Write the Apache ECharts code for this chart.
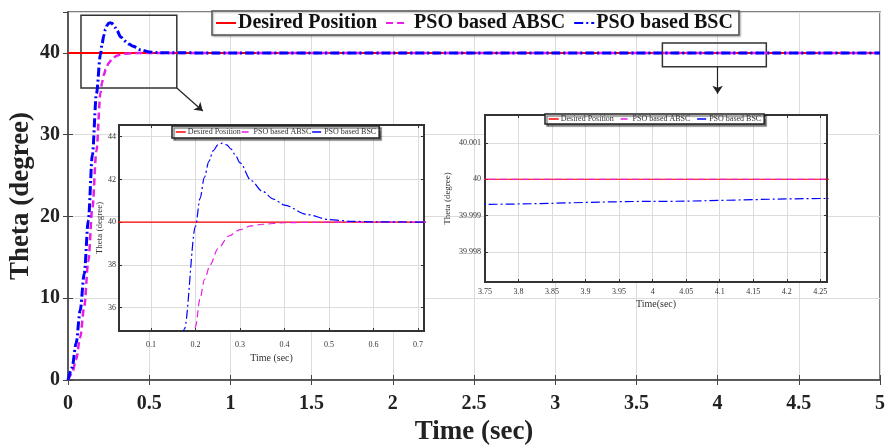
<!DOCTYPE html>
<html>
<head>
<meta charset="utf-8">
<script src="https://cdn.jsdelivr.net/npm/echarts@6/dist/echarts.min.js"></script>
<style>
  html, body { margin: 0; padding: 0; background: #fff; }
  #chart { width: 891px; height: 446px; }
</style>
</head>
<body>
<div id="chart"></div>
<script>
"use strict";

// values
const timeDesired = [0, 5];
const thetaDesired = [40, 40];

const timeAbsc = [0, 0.025, 0.05, 0.075, 0.1, 0.125, 0.15, 0.175, 0.2, 0.21, 0.22, 0.233, 0.25, 0.275, 0.3, 0.325, 0.35, 0.4, 0.45, 0.5, 5];
const thetaAbsc = [0, 0.8, 2.5, 5.2, 9, 14.5, 21, 28, 35.1, 36.4, 37.3, 38, 38.75, 39.35, 39.65, 39.82, 39.9, 39.97, 39.99, 40, 40];

const timeBsc = [0, 0.025, 0.05, 0.075, 0.1, 0.125, 0.15, 0.175, 0.2, 0.21, 0.22, 0.23, 0.24, 0.25, 0.26, 0.27, 0.28, 0.29, 0.3, 0.325, 0.35, 0.375, 0.4, 0.45, 0.5, 0.55, 0.6, 0.7, 0.8, 1, 1.5, 2, 3, 3.75, 4, 4.26, 5];
const thetaBsc = [0, 1.5, 4.5, 8.5, 13, 19.5, 27.5, 35, 39.8, 41.1, 42.1, 42.85, 43.35, 43.62, 43.7, 43.62, 43.42, 43.12, 42.78, 41.95, 41.45, 41.08, 40.8, 40.36, 40.12, 40.04, 40.015, 40.004, 40.0008, 39.9996, 39.999, 39.9988, 39.99905, 39.99931, 39.99939, 39.99947, 39.9997];

const seriesNames = ["Desired Position", "PSO based ABSC", "PSO based BSC"];
const inset1XTicks = [0.1, 0.2, 0.3, 0.4, 0.5, 0.6, 0.7];
const inset1YTicks = [36, 38, 40, 42, 44];
const inset2YTicks = [39.998, 39.999, 40, 40.001];

// zoomed regions marked on the main plot
const zoomBoxes = [
	[[0.08, 44.6], [0.67, 35.7]],
	[[3.66, 41.2], [4.3, 38.3]]
];
const zoomArrows = [
	[[0.67, 35.7], [0.83, 32.9]],
	[[4.0, 38.3], [4.0, 35.0]]
];

const serif = "'Liberation Serif', 'Times New Roman', serif";
const zip = (xs, ys) => xs.map((x, i) => [x, ys[i]]);
const fmt3 = (v) => String(+(+v).toFixed(3));

const chart = echarts.init(document.getElementById("chart"));

const grids = [
	{ left: 68, top: 12, width: 812, height: 368, show: true, borderColor: "#555", borderWidth: 1.5, outerBoundsMode: "none", containLabel: false },
	{ left: 119, top: 125, width: 305, height: 206, show: true, backgroundColor: "#fff", borderColor: "#333", borderWidth: 2, z: 5, outerBoundsMode: "none", containLabel: false },
	{ left: 485, top: 115, width: 342, height: 167, show: true, backgroundColor: "#fff", borderColor: "#333", borderWidth: 2, z: 5, outerBoundsMode: "none", containLabel: false }
];

const gridLine = { show: true, lineStyle: { color: "#dcdcdc", width: 1 } };
const hidden = { show: false };

const xAxes = [
	// main
	{
		type: "value", gridIndex: 0, min: 0, max: 5, interval: 0.5,
		axisLine: { lineStyle: { color: "#555", width: 1.5 } },
		axisTick: { inside: true, length: 5, lineStyle: { color: "#444" } },
		axisLabel: { color: "#222", fontFamily: serif, fontWeight: "bold", fontSize: 20, margin: 14 },
		splitLine: gridLine,
		name: "Time (sec)", nameLocation: "middle", nameGap: 38,
		nameTextStyle: { color: "#222", fontFamily: serif, fontWeight: "bold", fontSize: 27 }
	},
	{
		type: "value", gridIndex: 0, position: "top", min: 0, max: 5, interval: 0.5,
		axisLine: { lineStyle: { color: "#555", width: 1.5 } },
		axisTick: { inside: true, length: 5, lineStyle: { color: "#444" } },
		axisLabel: hidden, splitLine: hidden
	},
	// inset 1
	{
		type: "value", gridIndex: 1, min: 0.028, max: 0.7135, z: 6,
		axisLine: { lineStyle: { color: "#333", width: 2 } },
		axisTick: { inside: true, length: 3, customValues: inset1XTicks, lineStyle: { color: "#333" } },
		axisLabel: { customValues: inset1XTicks, formatter: fmt3, color: "#333", fontFamily: serif, fontSize: 8, margin: 10 },
		splitLine: Object.assign({ customValues: inset1XTicks }, gridLine),
		name: "Time (sec)", nameLocation: "middle", nameGap: 22,
		nameTextStyle: { color: "#333", fontFamily: serif, fontSize: 10 }
	},
	{
		type: "value", gridIndex: 1, position: "top", min: 0.028, max: 0.7135, z: 6,
		axisLine: { lineStyle: { color: "#333", width: 2 } },
		axisTick: { inside: true, length: 3, customValues: inset1XTicks, lineStyle: { color: "#333" } },
		axisLabel: hidden, splitLine: hidden
	},
	// inset 2
	{
		type: "value", gridIndex: 2, min: 3.75, max: 4.26, interval: 0.05, z: 6,
		axisLine: { lineStyle: { color: "#333", width: 2 } },
		axisTick: { inside: true, length: 3, lineStyle: { color: "#333" } },
		axisLabel: { formatter: (v) => (v > 4.255 ? "" : fmt3(v)), color: "#333", fontFamily: serif, fontSize: 8, margin: 6 },
		splitLine: gridLine,
		name: "Time(sec)", nameLocation: "middle", nameGap: 17,
		nameTextStyle: { color: "#333", fontFamily: serif, fontSize: 10 }
	},
	{
		type: "value", gridIndex: 2, position: "top", min: 3.75, max: 4.26, interval: 0.05, z: 6,
		axisLine: { lineStyle: { color: "#333", width: 2 } },
		axisTick: { inside: true, length: 3, lineStyle: { color: "#333" } },
		axisLabel: hidden, splitLine: hidden
	}
];

const yAxes = [
	// main
	{
		type: "value", gridIndex: 0, min: 0, max: 45, interval: 10,
		axisLine: { lineStyle: { color: "#555", width: 1.5 } },
		axisTick: { inside: true, length: 5, lineStyle: { color: "#444" } },
		axisLabel: { color: "#222", fontFamily: serif, fontWeight: "bold", fontSize: 20, margin: 8, showMaxLabel: false },
		splitLine: gridLine,
		name: "Theta (degree)", nameLocation: "middle", nameGap: 33, nameMoveOverlap: false,
		nameTextStyle: { color: "#222", fontFamily: serif, fontWeight: "bold", fontSize: 27 }
	},
	{
		type: "value", gridIndex: 0, position: "right", min: 0, max: 45, interval: 10,
		axisLine: { lineStyle: { color: "#555", width: 1.5 } },
		axisTick: { inside: true, length: 5, lineStyle: { color: "#444" } },
		axisLabel: hidden, splitLine: hidden
	},
	// inset 1
	{
		type: "value", gridIndex: 1, min: 34.9, max: 44.55, z: 6,
		axisLine: { lineStyle: { color: "#333", width: 2 } },
		axisTick: { inside: true, length: 3, customValues: inset1YTicks, lineStyle: { color: "#333" } },
		axisLabel: { customValues: inset1YTicks, color: "#333", fontFamily: serif, fontSize: 8, margin: 3 },
		splitLine: Object.assign({ customValues: inset1YTicks }, gridLine),
		name: "Theta (degree)", nameLocation: "middle", nameGap: 13,
		nameTextStyle: { color: "#333", fontFamily: serif, fontSize: 9 }
	},
	{
		type: "value", gridIndex: 1, position: "right", min: 34.9, max: 44.55, z: 6,
		axisLine: { lineStyle: { color: "#333", width: 2 } },
		axisTick: { inside: true, length: 3, customValues: inset1YTicks, lineStyle: { color: "#333" } },
		axisLabel: hidden, splitLine: hidden
	},
	// inset 2
	{
		type: "value", gridIndex: 2, min: 39.99717, max: 40.00177, z: 6,
		axisLine: { lineStyle: { color: "#333", width: 2 } },
		axisTick: { inside: true, length: 3, customValues: inset2YTicks, lineStyle: { color: "#333" } },
		axisLabel: { customValues: inset2YTicks, formatter: fmt3, color: "#333", fontFamily: serif, fontSize: 8, margin: 4 },
		splitLine: Object.assign({ customValues: inset2YTicks }, gridLine),
		name: "Theta (degree)", nameLocation: "middle", nameGap: 33,
		nameTextStyle: { color: "#333", fontFamily: serif, fontSize: 9 }
	},
	{
		type: "value", gridIndex: 2, position: "right", min: 39.99717, max: 40.00177, z: 6,
		axisLine: { lineStyle: { color: "#333", width: 2 } },
		axisTick: { inside: true, length: 3, customValues: inset2YTicks, lineStyle: { color: "#333" } },
		axisLabel: hidden, splitLine: hidden
	}
];

const styles = [
	{ color: "#ff0000", type: "solid" },
	{ color: "#e61ee6", type: [7, 4] },
	{ color: "#0000ff", type: [9, 3, 2, 3] }
];
const seriesData = [
	zip(timeDesired, thetaDesired),
	zip(timeAbsc, thetaAbsc),
	zip(timeBsc, thetaBsc)
];
const mainWidths = [2, 2.5, 3];

const series = [];
// main plot, then the two insets
[0, 2, 4].forEach((axisIndex, panel) => {
	seriesData.forEach((data, i) => {
		const s = {
			type: "line",
			name: seriesNames[i],
			xAxisIndex: axisIndex,
			yAxisIndex: axisIndex,
			data: data,
			showSymbol: false,
			symbol: "none",
			smooth: 0.3,
			smoothMonotone: "x",
			silent: true,
			z: panel === 0 ? 2 : 7,
			lineStyle: {
				color: styles[i].color,
				type: styles[i].type,
				width: panel === 0 ? mainWidths[i] : 1.2
			},
			itemStyle: { color: styles[i].color }
		};
		if (panel === 0 && i === 0) {
			s.markArea = {
				silent: true,
				itemStyle: { color: "rgba(0,0,0,0)", borderColor: "#333", borderWidth: 1.5 },
				data: zoomBoxes.map((b) => [{ coord: b[0] }, { coord: b[1] }])
			};
			s.markLine = {
				silent: true,
				symbol: ["none", "arrow"],
				symbolSize: 8,
				label: hidden,
				lineStyle: { color: "#222", type: "solid", width: 1.2 },
				data: zoomArrows.map((a) => [{ coord: a[0] }, { coord: a[1] }])
			};
		}
		series.push(s);
	});
});

const legendBase = {
	orient: "horizontal",
	data: seriesNames,
	backgroundColor: "#fff",
	borderColor: "#555",
	selectedMode: false,
	itemStyle: { opacity: 0 }
};

chart.setOption({
	animation: false,
	backgroundColor: "#fff",
	grid: grids,
	xAxis: xAxes,
	yAxis: yAxes,
	legend: [
		Object.assign({}, legendBase, {
			left: 212, top: 11, z: 4,
			padding: [2, 6, 2, 3],
			itemWidth: 20, itemHeight: 12, itemGap: 8,
			borderWidth: 1.5,
			shadowColor: "rgba(0,0,0,0.3)", shadowBlur: 2, shadowOffsetX: 1, shadowOffsetY: 1,
			data: [
				{ name: seriesNames[0] },
				{ name: seriesNames[1], textStyle: { padding: [0, 0, 0, 3] } },
				{ name: seriesNames[2] }
			],
			textStyle: { color: "#111", fontFamily: serif, fontWeight: "bold", fontSize: 20, padding: [0, 0, 0, -3] }
		}),
		Object.assign({}, legendBase, {
			left: 172, top: 126, z: 8,
			padding: [2, 3],
			itemWidth: 10, itemHeight: 6, itemGap: 0,
			borderWidth: 1.5, borderColor: "#222",
			shadowColor: "rgba(0,0,0,0.5)", shadowBlur: 1, shadowOffsetX: 2, shadowOffsetY: 2,
			lineStyle: { width: 1.5 },
			textStyle: { color: "#333", fontFamily: serif, fontSize: 8, padding: [0, 0, 0, -3] }
		}),
		Object.assign({}, legendBase, {
			left: 545, top: 114, z: 8,
			padding: [1, 3],
			itemWidth: 10, itemHeight: 6, itemGap: 6,
			borderWidth: 1.5, borderColor: "#222",
			shadowColor: "rgba(0,0,0,0.5)", shadowBlur: 1, shadowOffsetX: 2, shadowOffsetY: 2,
			lineStyle: { width: 1.5 },
			textStyle: { color: "#333", fontFamily: serif, fontSize: 8, padding: [0, 0, 0, -3] }
		})
	],
	series: series
});
</script>
</body>
</html>
